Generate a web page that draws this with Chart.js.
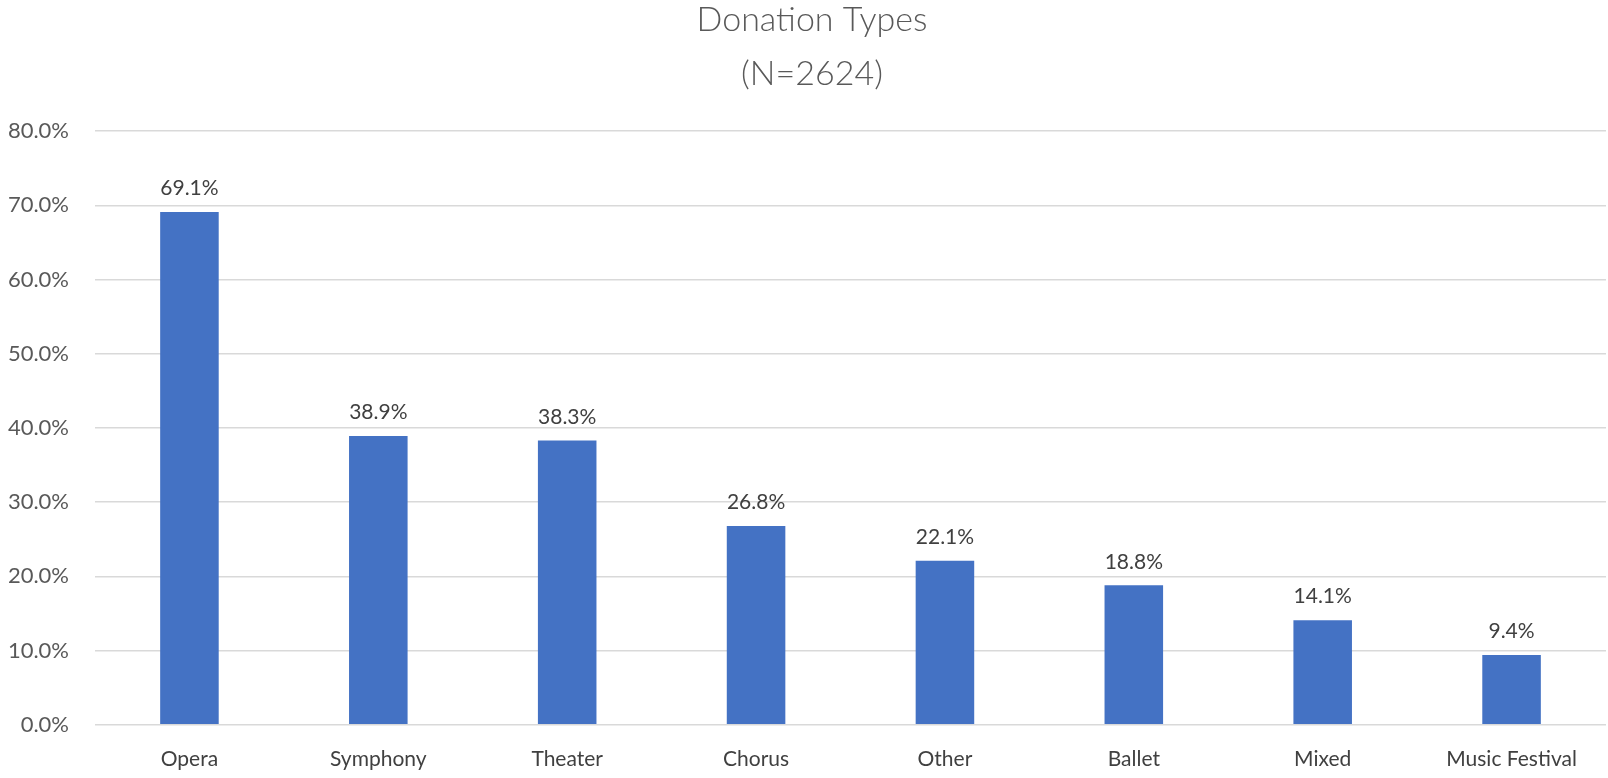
<!DOCTYPE html>
<html>
<head>
<meta charset="utf-8">
<title>Donation Types</title>
<script src="https://cdn.jsdelivr.net/npm/chart.js"></script>
<style>
  html, body { margin: 0; padding: 0; background: #fff; }
  #wrap { width: 1608px; height: 778px; }
</style>
</head>
<body>
<div id="wrap"><canvas id="donations"></canvas></div>
<script>
var categories = ['Opera', 'Symphony', 'Theater', 'Chorus', 'Other', 'Ballet', 'Mixed', 'Music Festival'];
var shares = [69.1, 38.9, 38.3, 26.8, 22.1, 18.8, 14.1, 9.4];
var titleLines = ['Donation Types', '(N=2624)'];

function pct(v) {
    return Number(v).toFixed(1) + '%';
}

// value labels above each bar
var barValues = {
    id: 'barValues',
    afterLayout: function(chart) {
        // centre the title a little right of the canvas middle
        if (chart.titleBlock) chart.titleBlock.left += 18;
    },
    afterDatasetsDraw: function(chart) {
        var ctx = chart.ctx;
        var meta = chart.getDatasetMeta(0);
        ctx.save();
        ctx.font = '21px Lato';
        ctx.fillStyle = '#404040';
        ctx.textAlign = 'center';
        ctx.textBaseline = 'bottom';
        meta.data.forEach(function(bar, i) {
            ctx.fillText(pct(chart.data.datasets[0].data[i]), bar.x, bar.y - 13);
        });
        ctx.restore();
    }
};

Chart.defaults.font.family = 'Lato';

var donations = new Chart(document.getElementById('donations'), {
    type: 'bar',
    data: {
        labels: categories,
        datasets: [{
            data: shares,
            backgroundColor: '#4472C4',
            categoryPercentage: 1,
            barPercentage: 0.31
        }]
    },
    options: {
        responsive: true,
        maintainAspectRatio: false,
        animation: false,
        layout: { padding: { left: 0, right: 2, top: 0, bottom: -16 } },
        plugins: {
            legend: { display: false },
            tooltip: { enabled: false },
            title: {
                display: true,
                text: titleLines,
                color: '#595959',
                font: { size: 34, weight: '300', lineHeight: 1.56 },
                padding: { top: -6, bottom: 31 }
            }
        },
        scales: {
            x: {
                grid: { display: false, drawTicks: false },
                border: { display: false },
                ticks: { color: '#404040', font: { size: 21 }, padding: 22 }
            },
            y: {
                min: 0,
                max: 80,
                grid: { color: '#d9d9d9', lineWidth: 1.5, drawTicks: false },
                border: { display: false },
                afterFit: function(scale) { scale.width = 95; },
                ticks: {
                    stepSize: 10,
                    color: '#595959',
                    font: { size: 22 },
                    padding: 26,
                    callback: function(v) { return pct(v); }
                }
            }
        }
    },
    plugins: [barValues]
});
</script>
</body>
</html>
